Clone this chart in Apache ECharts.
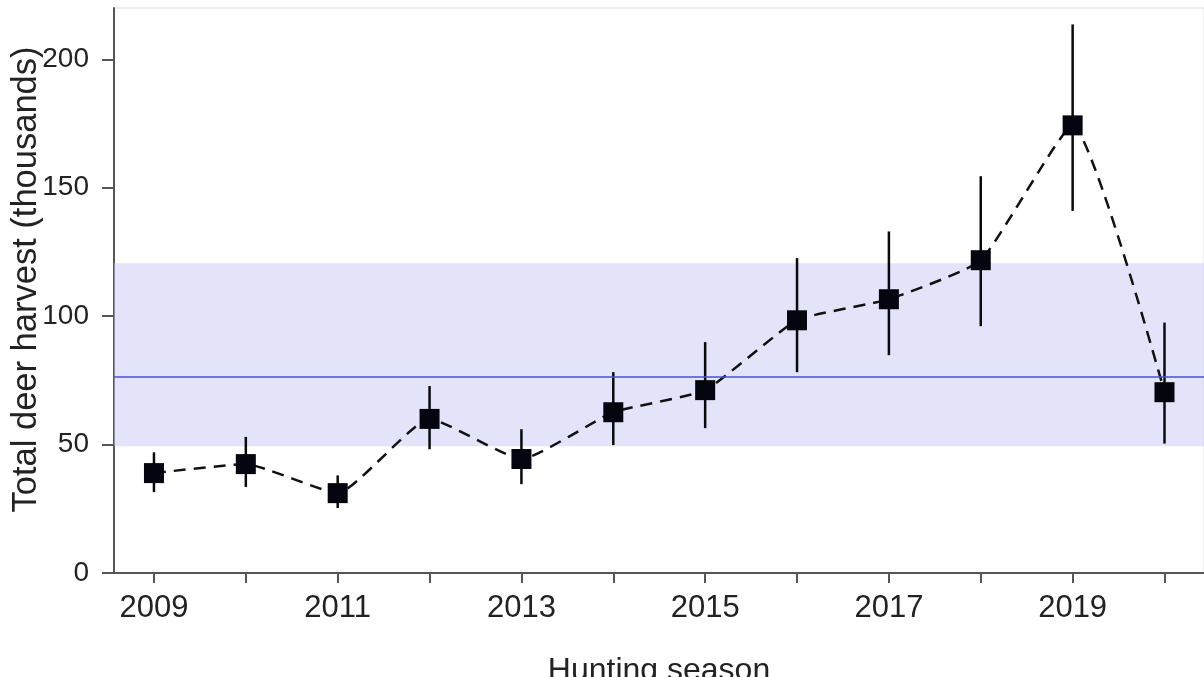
<!DOCTYPE html>
<html><head><meta charset="utf-8">
<script src="https://cdn.jsdelivr.net/npm/echarts@6/dist/echarts.min.js"></script>
<style>html,body{margin:0;padding:0;background:#fff}#c{width:1204px;height:677px}</style>
</head><body><div id="c"></div>
<script>
const years = [2009,2010,2011,2012,2013,2014,2015,2016,2017,2018,2019,2020];
const harvest = [38.9,42.4,31.1,60.0,44.4,62.6,71.2,98.4,106.6,121.8,174.3,70.4];
const upper = [47.0,53.0,38.0,72.8,56.0,78.2,89.9,122.6,133.0,154.5,213.6,97.5];
const lower = [31.5,33.5,25.3,48.2,34.6,49.8,56.4,78.2,84.8,96.1,141.0,50.4];
const meanValue = 76.3;
const bandLow = 49.4, bandHigh = 120.6;
const yTicks = [0,50,100,150,200];
const xLabelYears = [2009,2011,2013,2015,2017,2019];

const chart = echarts.init(document.getElementById('c'));
const font = 'Liberation Sans, Arial, sans-serif';
chart.setOption({
  animation:false,
  grid:{left:114, right:0, top:8, bottom:104, outerBoundsMode:'none', containLabel:false, show:true, borderColor:'#dcdcdc', borderWidth:1, backgroundColor:'transparent'},
  xAxis:{
    type:'value', min:2008.565, max:2020.43,
    name:'Hunting season', nameLocation:'middle', nameGap:82, nameMoveOverlap:false,
    nameTextStyle:{fontFamily:font, fontSize:32, color:'#222'},
    axisLine:{lineStyle:{color:'#555', width:2}},
    axisTick:{show:true, length:10, customValues:years, lineStyle:{color:'#555', width:2}},
    axisLabel:{customValues:xLabelYears, formatter:v=>String(Math.round(v)), fontFamily:font, fontSize:31, color:'#222', margin:20},
    splitLine:{show:false}
  },
  yAxis:{
    type:'value', min:0, max:220,
    name:'Total deer harvest (thousands)', nameLocation:'middle', nameGap:70, nameMoveOverlap:false,
    nameTextStyle:{fontFamily:font, fontSize:34.5, color:'#222', padding:[0,0,0,22]},
    axisLine:{show:true, lineStyle:{color:'#555', width:2}},
    axisTick:{show:true, length:12, customValues:yTicks, lineStyle:{color:'#555', width:2}},
    axisLabel:{customValues:yTicks, formatter:v=>String(v), fontFamily:font, fontSize:28, color:'#222', margin:25},
    splitLine:{show:false}
  },
  series:[
    {
      type:'line', data:[], silent:true,
      markArea:{silent:true, itemStyle:{color:'rgba(200,200,245,0.5)'}, data:[[{yAxis:bandLow},{yAxis:bandHigh}]]},
      markLine:{silent:true, symbol:'none', label:{show:false}, lineStyle:{color:'#4d4de0', width:1.5, type:'solid'}, data:[{yAxis:meanValue}]}
    },
    {
      type:'custom', z:3,
      data: years.map((y,i)=>[y, lower[i], upper[i]]),
      renderItem:(params, api)=>{
        const a = api.coord([api.value(0), api.value(1)]);
        const b = api.coord([api.value(0), api.value(2)]);
        return {type:'line', shape:{x1:a[0], y1:a[1], x2:b[0], y2:b[1]}, style:{stroke:'#0a0a0a', lineWidth:2.5}};
      }
    },
    {
      type:'line', z:4,
      data: years.map((y,i)=>[y, harvest[i]]),
      smooth:0.15,
      symbol:'rect', symbolSize:20,
      itemStyle:{color:'#05050f'},
      lineStyle:{color:'#111', width:2.5, type:[12,8]}
    }
  ]
});
</script></body></html>
